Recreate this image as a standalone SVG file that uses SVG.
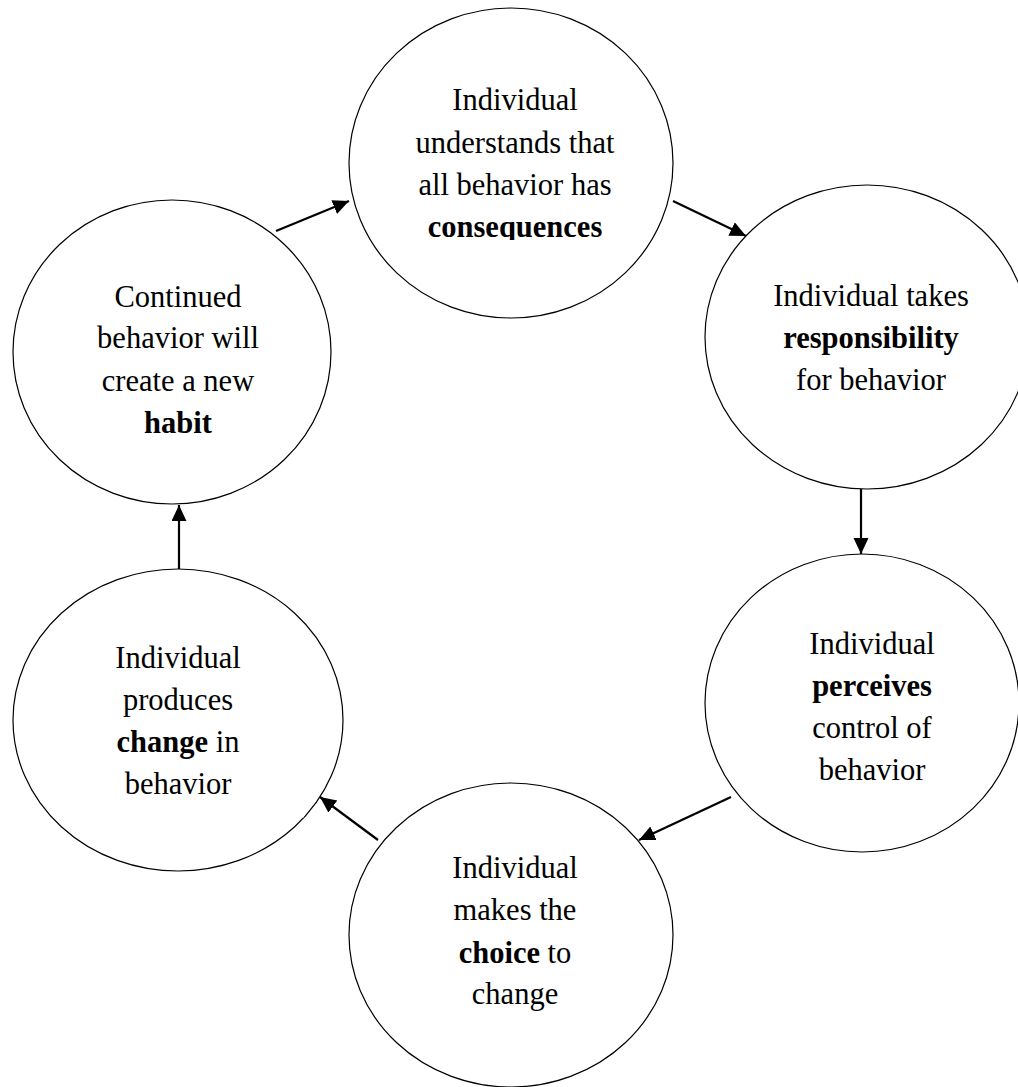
<svg xmlns="http://www.w3.org/2000/svg" width="1018" height="1087" viewBox="0 0 1018 1087">
<style>
.node ellipse{fill:#fff;stroke:#000;stroke-width:1.2}
.node text{font-family:"Liberation Serif",serif;font-size:30.5px;fill:#000;text-anchor:middle}
.b{font-weight:bold}
.conn line{stroke:#000;stroke-width:2.2}
</style>
<defs>
<marker id="ah" markerUnits="userSpaceOnUse" markerWidth="18" markerHeight="16" refX="16" refY="7.5" orient="auto">
<path d="M0,0 L16,7.5 L0,15 Z" fill="#000"/>
</marker>
<clipPath id="clipTop"><rect x="340" y="0" width="360" height="240"/></clipPath>
</defs>
<rect width="1018" height="1087" fill="#fff"/>
<g id="n1" class="node">
<ellipse cx="511" cy="163" rx="162" ry="155"/>
<g clip-path="url(#clipTop)">
<text x="515" y="110">Individual</text>
<text x="515" y="153">understands that</text>
<text x="515" y="195">all behavior has</text>
<text x="515" y="237" class="b">consequences</text>
</g>
</g>
<g id="n2" class="node">
<ellipse cx="867" cy="337" rx="162" ry="152"/>
<text x="871" y="306">Individual takes</text>
<text x="871" y="348" class="b">responsibility</text>
<text x="871" y="390">for behavior</text>
</g>
<g id="n3" class="node">
<ellipse cx="862" cy="703" rx="157" ry="149"/>
<text x="872" y="654">Individual</text>
<text x="872" y="696" class="b">perceives</text>
<text x="872" y="738">control of</text>
<text x="872" y="780">behavior</text>
</g>
<g id="n4" class="node">
<ellipse cx="511" cy="935" rx="162" ry="152"/>
<text x="515" y="878">Individual</text>
<text x="515" y="920">makes the</text>
<text x="515" y="963"><tspan class="b">choice</tspan> to</text>
<text x="515" y="1004">change</text>
</g>
<g id="n5" class="node">
<ellipse cx="178" cy="720" rx="165" ry="151"/>
<text x="178" y="668">Individual</text>
<text x="178" y="710">produces</text>
<text x="178" y="752"><tspan class="b">change</tspan> in</text>
<text x="178" y="794">behavior</text>
</g>
<g id="n6" class="node">
<ellipse cx="172" cy="352" rx="159" ry="152"/>
<text x="178" y="307">Continued</text>
<text x="178" y="348">behavior will</text>
<text x="178" y="391">create a new</text>
<text x="178" y="433" class="b">habit</text>
</g>
<g id="gaps" stroke="#fff" stroke-width="3">
<line x1="303" y1="443" x2="299" y2="450"/>
<line x1="306" y1="810" x2="302" y2="817"/>
</g>
<g id="connectors" class="conn">
<line x1="276" y1="231" x2="349" y2="201" marker-end="url(#ah)"/>
<line x1="673" y1="201" x2="746" y2="236" marker-end="url(#ah)"/>
<line x1="861" y1="489" x2="861" y2="554" marker-end="url(#ah)"/>
<line x1="731" y1="797" x2="639" y2="840" marker-end="url(#ah)"/>
<line x1="378" y1="840" x2="320" y2="797" marker-end="url(#ah)"/>
<line x1="179" y1="569" x2="179" y2="505" marker-end="url(#ah)"/>
</g>
</svg>
